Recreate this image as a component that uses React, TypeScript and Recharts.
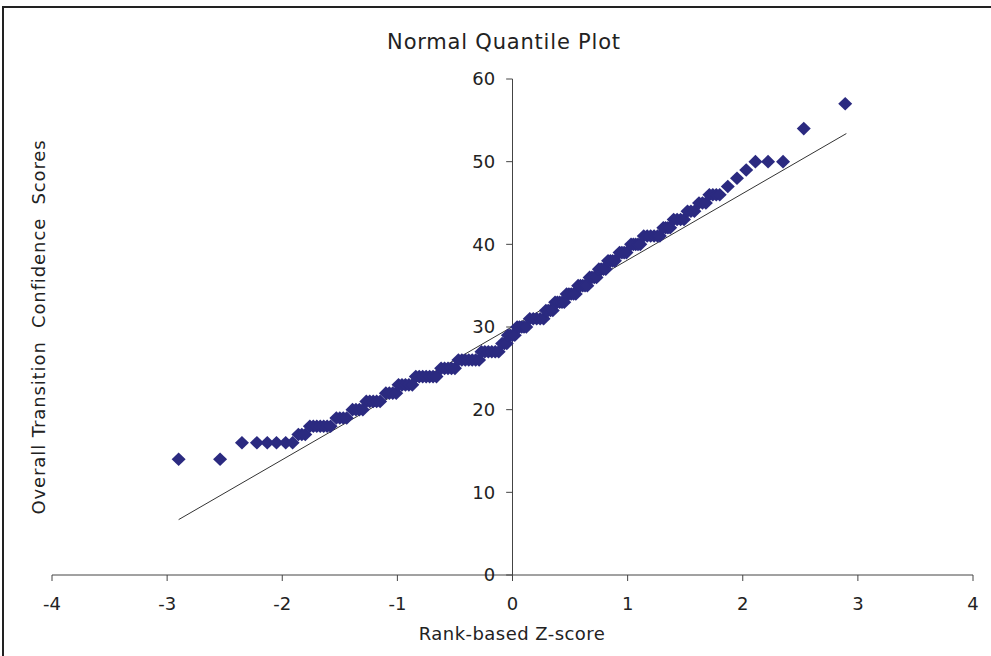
import React from 'react';
import { ScatterChart, Scatter, XAxis, YAxis, ReferenceLine } from 'recharts';

// rank-based z-score (x) and score (y) for each respondent
const zScores = [
  -2.9, -2.54,
  -2.35, -2.22, -2.13, -2.05, -1.97, -1.91,
  -1.86, -1.83, -1.8,
  -1.76, -1.73, -1.7, -1.67, -1.64, -1.61, -1.58,
  -1.53, -1.5, -1.47, -1.44,
  -1.39, -1.36, -1.33, -1.3,
  -1.27, -1.24, -1.21, -1.18, -1.15,
  -1.1, -1.07, -1.04, -1.01,
  -0.99, -0.96, -0.93, -0.9, -0.87,
  -0.84, -0.81, -0.78, -0.75, -0.72, -0.69, -0.66,
  -0.62, -0.59, -0.56, -0.53, -0.5,
  -0.47, -0.44, -0.41, -0.38, -0.35, -0.32, -0.29,
  -0.27, -0.24, -0.21, -0.18, -0.15, -0.12,
  -0.09, -0.07, -0.05,
  -0.04, -0.02, 0.0, 0.02,
  0.04, 0.06, 0.08, 0.1, 0.12,
  0.15, 0.18, 0.21, 0.24, 0.27,
  0.29, 0.31, 0.33, 0.35,
  0.37, 0.39, 0.41, 0.43, 0.45,
  0.47, 0.49, 0.51, 0.53, 0.55,
  0.57, 0.59, 0.61, 0.63, 0.65,
  0.67, 0.69, 0.71, 0.73,
  0.75, 0.77, 0.79, 0.81,
  0.83, 0.85, 0.87, 0.89,
  0.93, 0.95, 0.97, 0.99,
  1.03, 1.05, 1.07, 1.09, 1.11,
  1.14, 1.17, 1.2, 1.23, 1.26, 1.28,
  1.31, 1.33, 1.35, 1.37,
  1.4, 1.43, 1.46, 1.49,
  1.52, 1.55, 1.58,
  1.62, 1.65, 1.68,
  1.71, 1.74, 1.77, 1.8,
  1.87,
  1.95,
  2.03,
  2.11, 2.22, 2.35,
  2.53,
  2.89,
];

const scores = [
  14, 14,
  16, 16, 16, 16, 16, 16,
  17, 17, 17,
  18, 18, 18, 18, 18, 18, 18,
  19, 19, 19, 19,
  20, 20, 20, 20,
  21, 21, 21, 21, 21,
  22, 22, 22, 22,
  23, 23, 23, 23, 23,
  24, 24, 24, 24, 24, 24, 24,
  25, 25, 25, 25, 25,
  26, 26, 26, 26, 26, 26, 26,
  27, 27, 27, 27, 27, 27,
  28, 28, 28,
  29, 29, 29, 29,
  30, 30, 30, 30, 30,
  31, 31, 31, 31, 31,
  32, 32, 32, 32,
  33, 33, 33, 33, 33,
  34, 34, 34, 34, 34,
  35, 35, 35, 35, 35,
  36, 36, 36, 36,
  37, 37, 37, 37,
  38, 38, 38, 38,
  39, 39, 39, 39,
  40, 40, 40, 40, 40,
  41, 41, 41, 41, 41, 41,
  42, 42, 42, 42,
  43, 43, 43, 43,
  44, 44, 44,
  45, 45, 45,
  46, 46, 46, 46,
  47,
  48,
  49,
  50, 50, 50,
  54,
  57,
];

// fitted normal line end points
const fitZ = [-2.9, 2.9];
const fitScore = [6.7, 53.4];

const xTicks = [-4, -3, -2, -1, 0, 1, 2, 3, 4];
const yTicks = [0, 10, 20, 30, 40, 50, 60];

const points = zScores.map((z, i) => ({ z, score: scores[i] }));

const FONT = '"DejaVu Sans", Verdana, sans-serif';
const MARKER = '#2b2a80';
const AXIS = '#444';

const Diamond = (props: any) => {
  const { cx, cy } = props;
  if (cx == null || cy == null) return null;
  const rx = 7;
  const ry = 6.8;
  return (
    <polygon
      points={`${cx},${cy - ry} ${cx + rx},${cy} ${cx},${cy + ry} ${cx - rx},${cy}`}
      fill={MARKER}
    />
  );
};

export default function App() {
  return (
    <div
      style={{
        position: 'absolute',
        left: 0,
        top: 0,
        width: 991,
        height: 656,
        overflow: 'hidden',
        background: '#fff',
        fontFamily: FONT,
        color: '#222',
      }}
    >
      {/* frame */}
      <div
        style={{
          position: 'absolute',
          left: 2,
          top: 6,
          width: 1200,
          height: 900,
          borderTop: '2px solid #222',
          borderLeft: '2px solid #222',
        }}
      />

      <ScatterChart
        width={991}
        height={656}
        margin={{ top: 79, right: 18, bottom: 0, left: 52 }}
        style={{ position: 'absolute', left: 0, top: 0 }}
      >
        <XAxis
          type="number"
          dataKey="z"
          domain={[-4, 4]}
          ticks={xTicks}
          allowDataOverflow
          height={81}
          tickSize={6}
          tickMargin={16}
          axisLine={{ stroke: AXIS }}
          tickLine={{ stroke: AXIS }}
          tick={{ fill: '#222', fontSize: 18, fontFamily: FONT }}
        />
        <YAxis type="number" dataKey="score" domain={[0, 60]} ticks={yTicks} hide width={0} />

        {/* y axis drawn through x = 0 */}
        <ReferenceLine x={0} stroke={AXIS} ifOverflow="visible" />
        {yTicks.map((t) => (
          <ReferenceLine
            key={t}
            segment={[
              { x: -0.055, y: t },
              { x: 0, y: t },
            ]}
            stroke={AXIS}
            ifOverflow="visible"
            label={{
              value: String(t),
              position: 'left',
              offset: 11,
              fill: '#222',
              fontSize: 18,
              fontFamily: FONT,
            }}
          />
        ))}

        <ReferenceLine
          segment={[
            { x: fitZ[0], y: fitScore[0] },
            { x: fitZ[1], y: fitScore[1] },
          ]}
          stroke="#333"
          strokeWidth={1}
        />

        <Scatter data={points} shape={<Diamond />} isAnimationActive={false} />
      </ScatterChart>

      <div
        style={{
          position: 'absolute',
          left: 504,
          top: 42,
          transform: 'translate(-50%, -50%)',
          fontSize: 21,
          letterSpacing: 0.8,
          whiteSpace: 'nowrap',
        }}
      >
        Normal Quantile Plot
      </div>
      <div
        style={{
          position: 'absolute',
          left: 512,
          top: 633,
          transform: 'translate(-50%, -50%)',
          fontSize: 18,
          letterSpacing: 0.45,
          whiteSpace: 'nowrap',
        }}
      >
        Rank-based Z-score
      </div>
      <div
        style={{
          position: 'absolute',
          left: 38,
          top: 327,
          transform: 'translate(-50%, -50%) rotate(-90deg)',
          fontSize: 18,
          letterSpacing: 0.9,
          whiteSpace: 'pre',
        }}
      >
        Overall Transition  Confidence  Scores
      </div>
    </div>
  );
}
